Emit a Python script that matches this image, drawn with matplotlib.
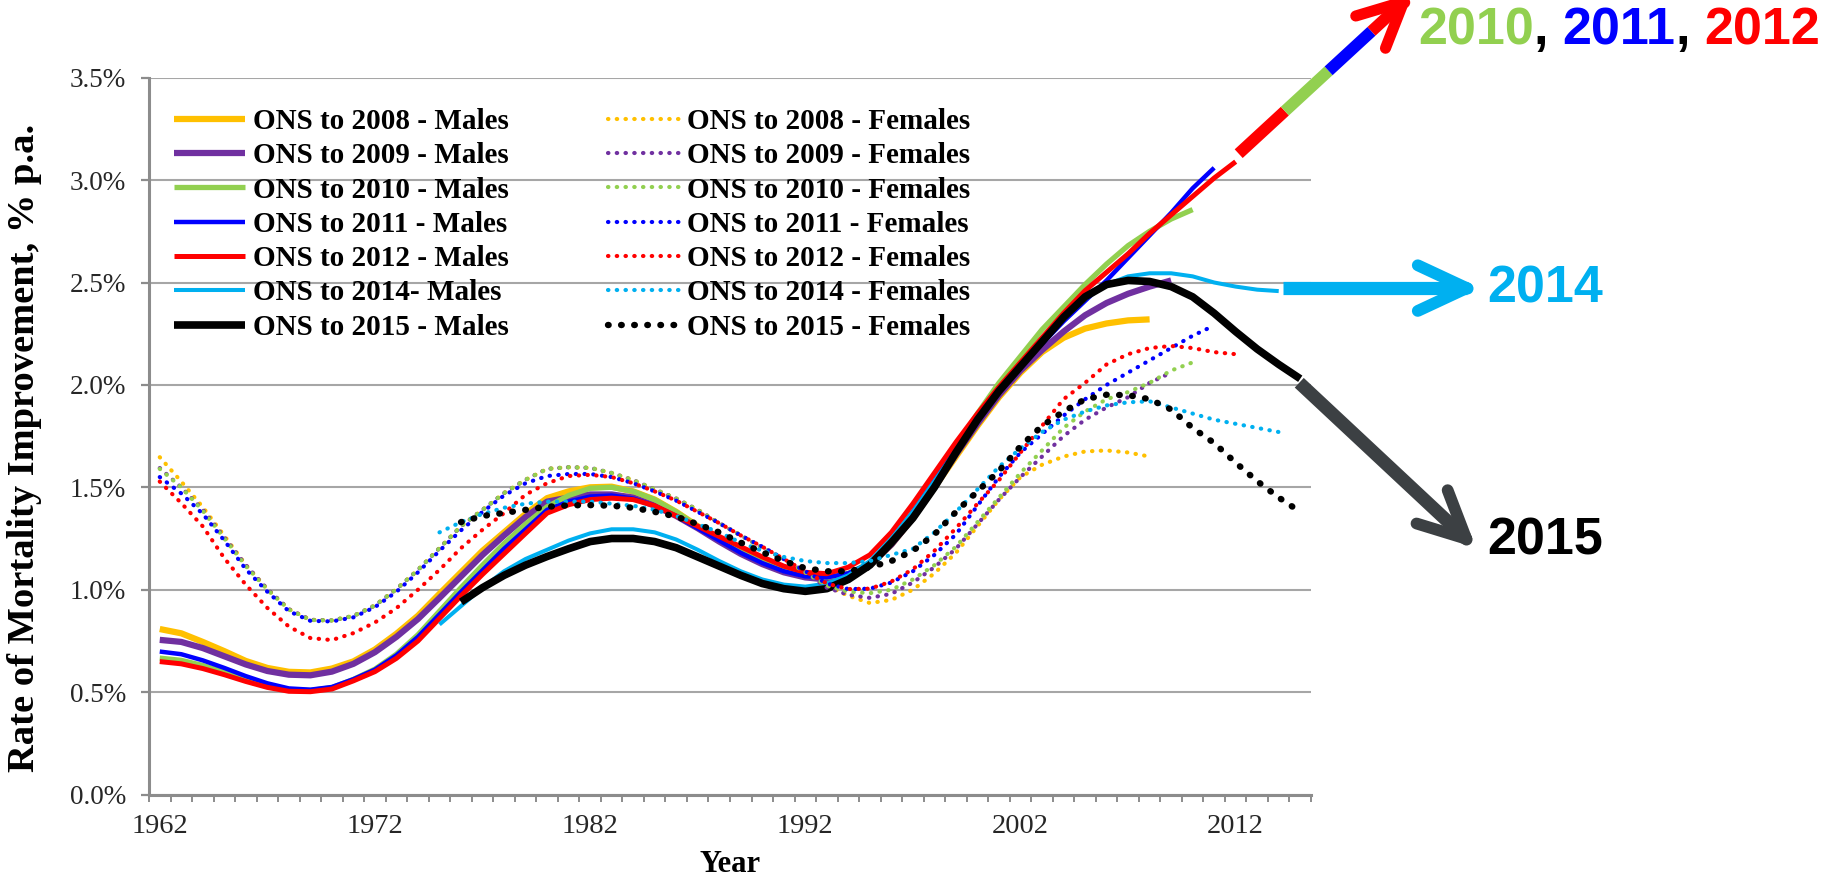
import matplotlib
matplotlib.use("Agg")
import matplotlib.pyplot as plt
from matplotlib.lines import Line2D
from matplotlib.transforms import IdentityTransform
import numpy as np

# ---- data: rate of mortality improvement (% p.a.) by year ----
# males, ONS projections
m2008 = [0.808, 0.787, 0.745, 0.700, 0.652, 0.618, 0.599, 0.596, 0.615, 0.650,
         0.708, 0.785, 0.873, 0.98, 1.085, 1.19, 1.28, 1.37, 1.447, 1.48,
         1.50, 1.503, 1.48, 1.44, 1.38, 1.31, 1.24, 1.18, 1.13, 1.09,
         1.065, 1.055, 1.07, 1.12, 1.22, 1.35, 1.50, 1.65, 1.80, 1.94,
         2.06, 2.16, 2.23, 2.275, 2.30, 2.315, 2.32]
m2009 = [0.755, 0.745, 0.715, 0.675, 0.635, 0.603, 0.585, 0.582, 0.600, 0.638,
         0.695, 0.770, 0.857, 0.96, 1.065, 1.17, 1.265, 1.355, 1.43, 1.45,
         1.465, 1.465, 1.45, 1.41, 1.36, 1.30, 1.235, 1.175, 1.125, 1.085,
         1.06, 1.05, 1.07, 1.12, 1.22, 1.35, 1.50, 1.66, 1.81, 1.95,
         2.07, 2.17, 2.26, 2.34, 2.40, 2.445, 2.48, 2.51]
m2010 = [0.666, 0.655, 0.63, 0.598, 0.563, 0.533, 0.512, 0.508, 0.522, 0.562,
         0.612, 0.685, 0.78, 0.895, 1.01, 1.12, 1.225, 1.32, 1.405, 1.46,
         1.495, 1.50, 1.48, 1.44, 1.38, 1.31, 1.245, 1.185, 1.135, 1.095,
         1.07, 1.06, 1.08, 1.13, 1.24, 1.38, 1.54, 1.70, 1.86, 2.01,
         2.14, 2.27, 2.38, 2.49, 2.59, 2.68, 2.75, 2.81, 2.856]
m2011 = [0.698, 0.685, 0.655, 0.618, 0.578, 0.543, 0.518, 0.512, 0.525, 0.563,
         0.61, 0.68, 0.77, 0.88, 0.99, 1.095, 1.2, 1.295, 1.39, 1.43,
         1.455, 1.46, 1.445, 1.41, 1.36, 1.30, 1.24, 1.18, 1.13, 1.09,
         1.065, 1.06, 1.08, 1.13, 1.24, 1.38, 1.53, 1.69, 1.84, 1.97,
         2.09, 2.20, 2.31, 2.41, 2.51, 2.62, 2.73, 2.84, 2.96, 3.06]
m2012 = [0.649, 0.638, 0.615, 0.585, 0.552, 0.523, 0.504, 0.502, 0.515, 0.555,
         0.600, 0.665, 0.75, 0.86, 0.97, 1.075, 1.175, 1.275, 1.374, 1.415,
         1.44, 1.447, 1.44, 1.41, 1.36, 1.31, 1.26, 1.21, 1.16, 1.115,
         1.085, 1.078, 1.11, 1.17, 1.28, 1.42, 1.57, 1.72, 1.86, 1.99,
         2.11, 2.23, 2.35, 2.46, 2.55, 2.64, 2.74, 2.83, 2.92, 3.01, 3.09]
m2014 = [0.83, 0.92, 1.01, 1.09, 1.15, 1.195, 1.24, 1.275, 1.295, 1.295,
         1.28, 1.245, 1.195, 1.14, 1.09, 1.05, 1.025, 1.015, 1.03, 1.07,
         1.14, 1.25, 1.38, 1.53, 1.68, 1.83, 1.97, 2.09, 2.21, 2.32,
         2.42, 2.49, 2.53, 2.545, 2.545, 2.53, 2.50, 2.48, 2.465, 2.458]
m2015 = [0.94, 1.01, 1.07, 1.12, 1.162, 1.20, 1.235, 1.25, 1.25, 1.235,
         1.205, 1.16, 1.115, 1.07, 1.03, 1.005, 0.992, 1.005, 1.05, 1.12,
         1.23, 1.35, 1.50, 1.67, 1.83, 1.97, 2.09, 2.21, 2.33, 2.43,
         2.49, 2.51, 2.505, 2.48, 2.43, 2.35, 2.26, 2.175, 2.10, 2.03]

# females
f2008 = [1.647, 1.528, 1.403, 1.263, 1.121, 1.003, 0.905, 0.853, 0.850, 0.872,
         0.923, 1.003, 1.097, 1.203, 1.31, 1.39, 1.472, 1.537, 1.59, 1.598,
         1.595, 1.57, 1.535, 1.49, 1.445, 1.39, 1.325, 1.265, 1.205, 1.15,
         1.085, 1.02, 0.97, 0.935, 0.95, 1.0, 1.08, 1.18, 1.31, 1.44,
         1.55, 1.61, 1.65, 1.675, 1.68, 1.67, 1.65]
f2009 = [1.594, 1.50, 1.39, 1.255, 1.12, 1.003, 0.905, 0.853, 0.850, 0.872,
         0.923, 1.003, 1.097, 1.203, 1.31, 1.39, 1.472, 1.537, 1.59, 1.598,
         1.595, 1.57, 1.535, 1.49, 1.445, 1.39, 1.325, 1.265, 1.205, 1.15,
         1.085, 1.01, 0.975, 0.96, 0.98, 1.035, 1.11, 1.20, 1.32, 1.44,
         1.55, 1.65, 1.75, 1.83, 1.89, 1.94, 2.01, 2.06]
f2010 = [1.59, 1.50, 1.385, 1.25, 1.115, 1.0, 0.903, 0.852, 0.85, 0.872,
         0.923, 1.003, 1.097, 1.203, 1.31, 1.39, 1.472, 1.537, 1.59, 1.598,
         1.595, 1.57, 1.535, 1.49, 1.445, 1.39, 1.325, 1.265, 1.205, 1.15,
         1.085, 1.02, 0.99, 0.983, 1.0, 1.05, 1.12, 1.21, 1.33, 1.45,
         1.57, 1.68, 1.79, 1.87, 1.93, 1.965, 2.01, 2.07, 2.11]
f2011 = [1.55, 1.47, 1.37, 1.24, 1.10, 0.99, 0.895, 0.848, 0.845, 0.865,
         0.915, 0.99, 1.085, 1.19, 1.29, 1.38, 1.46, 1.52, 1.555, 1.565,
         1.565, 1.55, 1.52, 1.48, 1.435, 1.38, 1.325, 1.265, 1.21, 1.15,
         1.09, 1.03, 1.003, 1.005, 1.035, 1.09, 1.17, 1.27, 1.41, 1.55,
         1.67, 1.76, 1.85, 1.93, 2.00, 2.06, 2.12, 2.18, 2.24, 2.29]
f2012 = [1.528, 1.423, 1.309, 1.154, 1.024, 0.911, 0.82, 0.764, 0.754, 0.788,
         0.84, 0.91, 1.0, 1.097, 1.203, 1.293, 1.374, 1.464, 1.52, 1.555,
         1.561, 1.55, 1.52, 1.48, 1.435, 1.38, 1.325, 1.265, 1.21, 1.15,
         1.09, 1.03, 1.003, 1.005, 1.04, 1.10, 1.19, 1.30, 1.42, 1.535,
         1.67, 1.80, 1.93, 2.01, 2.10, 2.15, 2.18, 2.19, 2.18, 2.16, 2.15]
f2014 = [1.28, 1.33, 1.37, 1.40, 1.42, 1.43, 1.43, 1.43, 1.42, 1.41,
         1.39, 1.36, 1.32, 1.28, 1.23, 1.19, 1.16, 1.14, 1.13, 1.13,
         1.14, 1.17, 1.20, 1.28, 1.38, 1.49, 1.60, 1.69, 1.77, 1.83,
         1.87, 1.90, 1.915, 1.92, 1.89, 1.86, 1.83, 1.81, 1.79, 1.77]
f2015 = [1.33, 1.36, 1.375, 1.39, 1.405, 1.412, 1.413, 1.41, 1.40, 1.38,
         1.357, 1.32, 1.28, 1.23, 1.183, 1.14, 1.105, 1.09, 1.09, 1.11,
         1.14, 1.19, 1.27, 1.38, 1.48, 1.58, 1.70, 1.80, 1.87, 1.93,
         1.952, 1.95, 1.93, 1.88, 1.79, 1.716, 1.62, 1.53, 1.45, 1.38]

# first year of each series
start_years = [1962, 1962, 1962, 1962, 1962, 1975, 1976]
vintages = ['2008', '2009', '2010', '2011', '2012', '2014', '2015']
male_labels = ['ONS to 2008 - Males', 'ONS to 2009 - Males', 'ONS to 2010 - Males',
               'ONS to 2011 - Males', 'ONS to 2012 - Males', 'ONS to 2014- Males',
               'ONS to 2015 - Males']
female_labels = ['ONS to %s - Females' % v for v in vintages]
males = [m2008, m2009, m2010, m2011, m2012, m2014, m2015]
females = [f2008, f2009, f2010, f2011, f2012, f2014, f2015]

colors = ['#FFC000', '#7030A0', '#92D050', '#0000FF', '#FF0000', '#00B0F0', '#000000']
male_lw = [4.5, 4.5, 3.8, 3.2, 3.6, 2.9, 5.5]

y_ticks = np.arange(0, 3.51, 0.5)
x_labels = [1962, 1972, 1982, 1992, 2002, 2012]

serif = 'Liberation Serif'
W, H = 1832, 886

fig = plt.figure(figsize=(W / 100, H / 100), dpi=100)
ax = fig.add_axes([149 / W, (H - 794.5) / H, 1162 / W, 716.8 / H])

handles = []
for vals, start, col, lw, lab in zip(males, start_years, colors, male_lw, male_labels):
    yrs = np.arange(start, start + len(vals))
    ln, = ax.plot(yrs, vals, color=col, lw=lw, solid_capstyle='butt',
                  solid_joinstyle='round', label=lab, zorder=3)
    handles.append(ln)

for vals, start, col, lab in zip(females, start_years, colors, female_labels):
    yrs = np.arange(start, start + len(vals))
    if col == '#000000':
        lw, ls = 4.6, (0, (0.1, 1.95))
    else:
        lw, ls = 3.0, (0, (0.1, 2.0))
    ln, = ax.plot(yrs, vals, color=col, lw=lw, linestyle=ls,
                  dash_capstyle='round', label=lab, zorder=4)
    handles.append(ln)

ax.set_xlim(1961.5, 2015.5)
ax.set_ylim(0, 3.5)
ax.set_yticks(y_ticks)
ax.set_yticklabels(['%.1f%%' % v for v in y_ticks])
ax.set_xticks(x_labels)
ax.set_xticks(np.arange(1961.5, 2016, 1), minor=True)

for s in ['top', 'right']:
    ax.spines[s].set_visible(False)
for s in ['left', 'bottom']:
    ax.spines[s].set_color('#8c8c8c')
    ax.spines[s].set_linewidth(2.2)

ax.yaxis.grid(True, color='#a6a6a6', lw=1.5)
ax.set_axisbelow(True)
ax.tick_params(axis='y', direction='out', length=6, width=1.6, color='#8c8c8c',
               pad=10.5, labelsize=19.5, labelcolor='#262626')
ax.tick_params(axis='x', which='major', length=0, pad=14, labelsize=20.5,
               labelcolor='#262626')
ax.tick_params(axis='x', which='minor', direction='out', length=5, width=1.4,
               color='#8c8c8c')
for lab in ax.get_xticklabels() + ax.get_yticklabels():
    lab.set_family(serif)

ax.set_xlabel('Year', fontsize=22, fontweight='bold', family=serif, va='center')
ax.xaxis.set_label_coords(0.5, (794.5 - 864) / 716.8)
ax.set_ylabel('Rate of Mortality Improvement, % p.a.', fontsize=27.7,
              fontweight='bold', family=serif, va='center')
ax.yaxis.set_label_coords((25 - 149) / 1162, (794.5 - 448) / 716.8)

leg = ax.legend(handles=handles, ncol=2, loc='upper left',
                bbox_to_anchor=((174 - 149) / 1162, (794.5 - 108) / 716.8),
                frameon=False, borderpad=0, borderaxespad=0,
                handlelength=2.43, handletextpad=0.27, columnspacing=3.4,
                labelspacing=0.25,
                prop={'family': serif, 'weight': 'bold', 'size': 21})

# ---- annotation arrows, anchored on the last point of the series they point from ----
fig.canvas.draw()
px = IdentityTransform()


def seg(p, q, color, lw, cap='butt'):
    fig.add_artist(Line2D([p[0], q[0]], [p[1], q[1]], color=color, lw=lw,
                          solid_capstyle=cap, transform=px, zorder=10))


def head(tip, back, color, lw, length, spread=26):
    ang = np.arctan2(back[1], back[0])
    for d in (-spread, spread):
        a = ang + np.radians(d)
        end = (tip[0] + length * np.cos(a), tip[1] + length * np.sin(a))
        seg(end, tip, color, lw, cap='round')
    fig.add_artist(Line2D([tip[0]], [tip[1]], marker='o', ms=lw * 0.9,
                          color=color, transform=px, zorder=10))


def anchor(vals, start):
    return ax.transData.transform((start + len(vals) - 1, vals[-1]))


# 2014 males -> horizontal arrow
s = anchor(m2014, 1975)
p0 = (s[0] + 4, s[1] + 3)
tip = (s[0] + 188, s[1] + 3)
seg(p0, tip, '#00B0F0', 9.5)
head(tip, (-1, 0), '#00B0F0', 8.5, 54, spread=25)

# 2015 males -> downward arrow
s = anchor(m2015, 1976)
p0 = (s[0] - 1, s[1] - 4)
tip = (s[0] + 166, s[1] - 160)
seg(p0, tip, '#3c4043', 9.5)
head(tip, (p0[0] - tip[0], p0[1] - tip[1]), '#3c4043', 8.5, 52)

# 2010/2011/2012 males -> upward arrow in three colours
s = anchor(m2012, 1962)
p0 = np.array([s[0] + 3, s[1] + 8])
tip = np.array([s[0] + 168, s[1] + 160])
cuts = [0.0, 0.28, 0.545, 0.805, 0.97]
seg_cols = ['#FF0000', '#92D050', '#0000FF', '#FF0000']
for a, b, c in zip(cuts[:-1], cuts[1:], seg_cols):
    seg(p0 + a * (tip - p0), p0 + b * (tip - p0), c, 8.5)
head(tuple(tip), tuple(p0 - tip), '#FF0000', 8, 50)

# ---- annotation labels ----
big = dict(family='Liberation Sans', fontweight='bold', fontsize=37.5,
           transform=px, va='center', ha='left')
renderer = fig.canvas.get_renderer()
x = 1418
y = H - 31
space = 0.278 * 37.5 * 100 / 72
for piece, col, gap in [('2010', '#92D050', 0), (',', '#000000', space),
                        ('2011', '#0000FF', 0), (',', '#000000', space),
                        ('2012', '#FF0000', 0)]:
    t = fig.text(x, y, piece, color=col, **big)
    x = t.get_window_extent(renderer).x1 + gap

fig.text(1487, H - 289, '2014', color='#00B0F0', **big)
fig.text(1487, H - 541, '2015', color='#000000', **big)

fig.savefig('out.png', dpi=100)
